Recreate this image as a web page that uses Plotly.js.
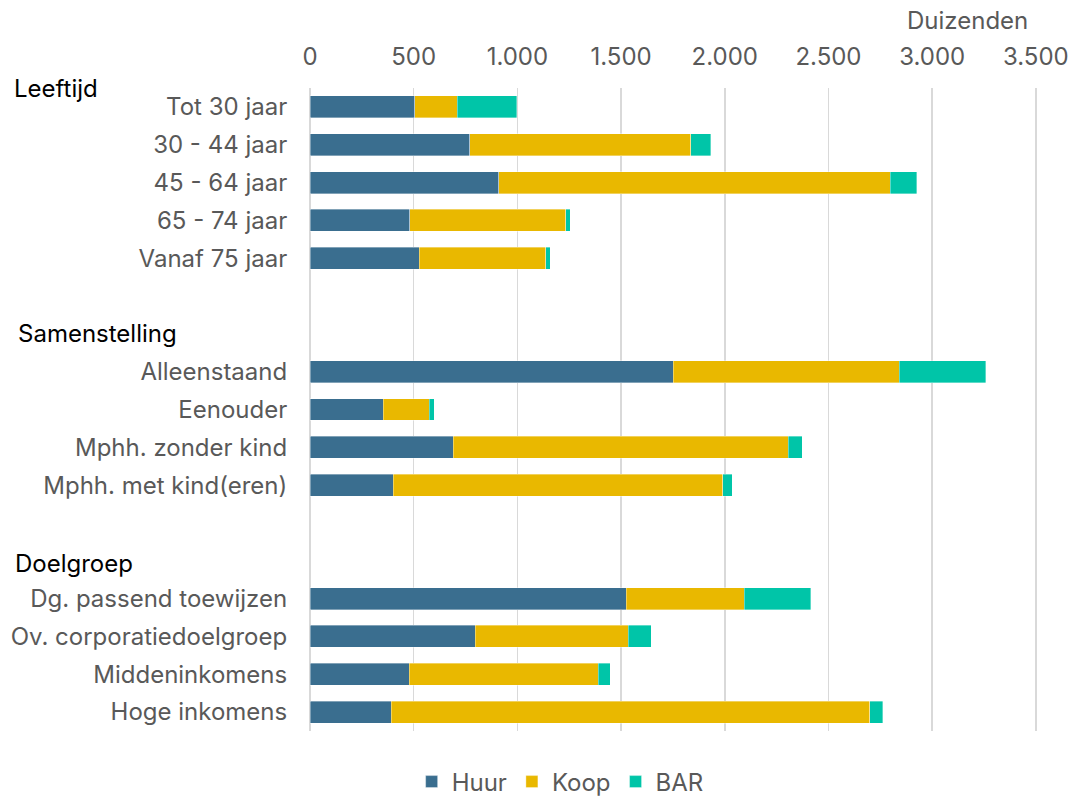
<!DOCTYPE html>
<html>
<head>
<meta charset="utf-8">
<script src="https://cdn.plot.ly/plotly-3.0.1.min.js"></script>
<style>html,body{margin:0;padding:0;background:#fff;}#chart{width:1071px;height:796px;}</style>
</head>
<body>
<div id="chart"></div>
<script>
// Categories (top to bottom); blank entries are spacer rows between groups
const categories = [
  "Tot 30 jaar", "30 - 44 jaar", "45 - 64 jaar", "65 - 74 jaar", "Vanaf 75 jaar",
  " ", "  ",
  "Alleenstaand", "Eenouder", "Mphh. zonder kind", "Mphh. met kind(eren)",
  "   ", "    ",
  "Dg. passend toewijzen", "Ov. corporatiedoelgroep", "Middeninkomens", "Hoge inkomens"
];
// Values in thousands
const huur = [506, 770, 910, 481, 526, null, null, 1751, 354, 691, 402, null, null, 1524, 797, 479, 392];
const koop = [203, 1065, 1889, 751, 611, null, null, 1090, 222, 1616, 1587, null, null, 570, 737, 910, 2306];
const bar  = [287, 97, 126, 22, 21, null, null, 417, 24, 66, 48, null, null, 321, 112, 58, 63];
const seriesNames = ["Huur", "Koop", "BAR"];
const groupHeaders = ["Leeftijd", "Samenstelling", "Doelgroep"];
const xTicks = [0, 500, 1000, 1500, 2000, 2500, 3000, 3500];
const unitLabel = "Duizenden";

const colors = ["#3A6E8F", "#E9B800", "#00C5A8"];
const L = 309, R = 31, W = 1071, H = 796, T = 88, B = 65;
const plotW = W - L - R;
const px2paper = p => (p - L) / plotW;
const n = categories.length;

const traces = [huur, koop, bar].map((vals, i) => ({
  type: "bar",
  orientation: "h",
  name: seriesNames[i],
  y: categories,
  x: vals,
  marker: {color: colors[i], line: {color: "rgba(255,255,255,0.6)", width: 0.6}},
  hoverinfo: "x+y+name"
}));

const layout = {
  width: W, height: H,
  margin: {l: L, r: R, t: T, b: B},
  barmode: "stack",
  bargap: 0.42,
  separators: ",.",
  paper_bgcolor: "#fff",
  plot_bgcolor: "#fff",
  font: {family: "Inter, 'Noto Sans', sans-serif", size: 24, color: "#595959"},
  xaxis: {
    side: "top",
    range: [-5, 3520],
    tickvals: xTicks,
    tickformat: ",d",
    showgrid: true,
    gridcolor: "#D9D9D9",
    gridwidth: 1.5,
    zeroline: false,
    showline: false,
    ticks: "outside",
    ticklen: 12,
    tickcolor: "rgba(0,0,0,0)",
    tickfont: {size: 24, color: "#595959"}
  },
  yaxis: {
    type: "category",
    categoryorder: "array",
    categoryarray: categories,
    range: [n - 0.5, -0.5],
    autorange: false,
    showgrid: false,
    zeroline: false,
    showline: false,
    ticks: "outside",
    ticklen: 16,
    tickcolor: "rgba(0,0,0,0)",
    tickfont: {size: 24, color: "#595959"}
  },
  showlegend: true,
  legend: {
    orientation: "h",
    xref: "container", yref: "container",
    x: 0.523, xanchor: "center",
    y: (H - 782) / H, yanchor: "middle",
    font: {size: 24, color: "#595959"},
    itemwidth: 30,
    traceorder: "normal"
  },
  annotations: [
    {text: groupHeaders[0], xref: "paper", yref: "y", x: px2paper(12), y: -0.5, xanchor: "left", yanchor: "middle", showarrow: false, font: {size: 24, color: "#000"}},
    {text: groupHeaders[1], xref: "paper", yref: "y", x: px2paper(16), y: 6, xanchor: "left", yanchor: "middle", showarrow: false, font: {size: 24, color: "#000"}},
    {text: groupHeaders[2], xref: "paper", yref: "y", x: px2paper(13), y: 12.08, xanchor: "left", yanchor: "middle", showarrow: false, font: {size: 24, color: "#000"}},
    {text: unitLabel, xref: "paper", yref: "paper", x: px2paper(1030), y: 1 + (T - 20) / (H - T - B), xanchor: "right", yanchor: "middle", showarrow: false, font: {size: 24, color: "#595959"}}
  ]
};

Plotly.newPlot("chart", traces, layout, {displayModeBar: false, staticPlot: true});
</script>
</body>
</html>
